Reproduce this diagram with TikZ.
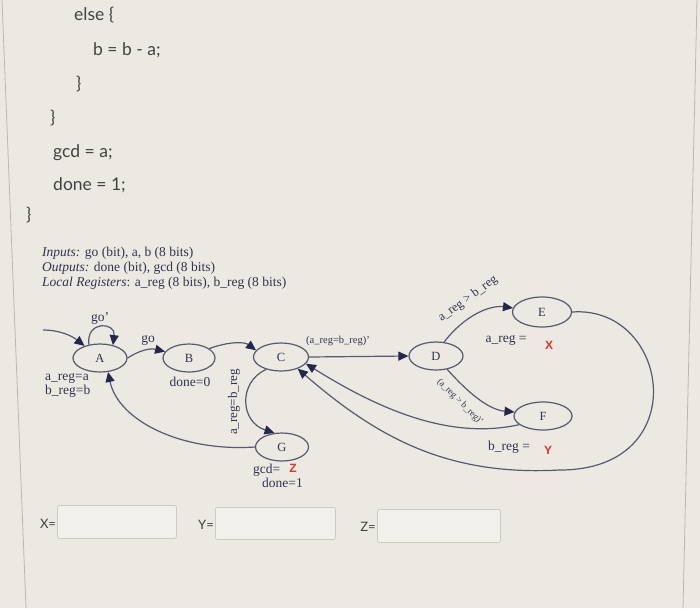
\documentclass[tikz,border=0pt]{standalone}
\usepackage{fontspec}
\setmainfont{Liberation Serif}
\newfontfamily\uifont{Lato}
\newfontfamily\marksans{Liberation Sans}
\usetikzlibrary{shapes.geometric,arrows.meta}

\definecolor{paper}{RGB}{236,233,226}
\definecolor{pageedge}{RGB}{186,184,178}
\definecolor{ink}{RGB}{50,50,78}
\definecolor{edgegray}{RGB}{88,88,112}
\definecolor{tipblue}{RGB}{36,38,78}
\definecolor{codegray}{RGB}{66,66,66}
\definecolor{answerred}{RGB}{226,52,44}
\definecolor{boxline}{RGB}{204,202,196}

\tikzset{
  state/.style={ellipse, draw=edgegray, line width=1.2pt, minimum width=55pt,
    minimum height=28pt, inner sep=0pt, text=ink, font=\fontsize{12.5}{12.5}\selectfont},
  trans/.style={draw=edgegray, line width=1.2pt, -{Triangle[length=10pt,width=9pt,color=tipblue]}},
  lbl/.style={text=ink, inner sep=0pt, font=\fontsize{13.5}{14}\selectfont},
  codeline/.style={anchor=base west, inner sep=0pt, text=codegray, font=\uifont\fontsize{17.5}{18}\selectfont},
  answer/.style={anchor=north west, draw=boxline, line width=0.8pt, rounded corners=2pt, fill=paper!70!white},
  answerlbl/.style={inner sep=0pt, text=codegray, font=\uifont\fontsize{13}{13}\selectfont},
  val/.style={inner sep=0pt, text=answerred, font=\marksans\bfseries\fontsize{12}{12}\selectfont}
}

\begin{document}
\begin{tikzpicture}[x=1pt, y=-1pt]
  % page and screen edges
  \fill[paper] (0,0) rectangle (700,608);
  \useasboundingbox (0,0) rectangle (700,608);
  \draw[pageedge, line width=0.8pt] (2,0) -- (26,608);
  \draw[pageedge, line width=0.8pt] (697,0) -- (683,608);

  % end of the code
  \node[codeline] (elseline) at (74,20) {else \{};
  \node[codeline] (subline) at (93,55) {b = b - a;};
  \node[codeline] (closeelse) at (76,89) {\}};
  \node[codeline] (closeloop) at (50,123) {\}};
  \node[codeline] (gcdline) at (53,157) {gcd = a;};
  \node[codeline] (doneline) at (53,190) {done = 1;};
  \node[codeline] (closeall) at (26,220) {\}};

  % ports and registers
  \node[lbl, anchor=base west] (inputs) at (42,256) {\textit{Inputs:} go (bit), a, b (8 bits)};
  \node[lbl, anchor=base west] (outputs) at (42,271) {\textit{Outputs:} done (bit), gcd (8 bits)};
  \node[lbl, anchor=base west] (locals) at (42,286) {\textit{Local Registers}: a\_reg (8 bits), b\_reg (8 bits)};

  % states
  \node[state, minimum width=54pt] (A) at (100,358) {A};
  \node[state, minimum width=52pt] (B) at (189,358) {B};
  \node[state] (C) at (281,357) {C};
  \node[state, minimum width=53pt] (G) at (282,447) {G};
  \node[state, minimum width=54pt] (D) at (436,356) {D};
  \node[state, minimum width=59pt, minimum height=30pt] (E) at (542,312) {E};
  \node[state, minimum width=58pt] (F) at (543,416) {F};

  % transitions
  \coordinate (start) at (43,330);
  \draw[trans] (start) .. controls (60,330) and (72,336) .. (A.142);
  \draw[trans] (A.130) .. controls (86,320) and (116,322) .. (A.45);
  \draw[trans] (A.east) .. controls (140,350) and (150,348) .. (B.165);
  \draw[trans] (B.25) .. controls (230,341) and (245,342) .. (C.165);
  \draw[trans] (C.east) -- (D.west);
  \draw[trans] (C.220) .. controls (238,382) and (240,422) .. (G.118);
  \draw[trans] (G.west) .. controls (180,452) and (118,420) .. (A.300);
  \draw[trans] (D.60) .. controls (465,315) and (490,305) .. (E.172);
  \draw[trans] (D.-50) .. controls (470,395) and (490,410) .. (F.172);
  \draw[trans] (F.200) .. controls (450,440) and (380,410) .. (C.-15);
  \draw[trans] (E.east) .. controls (670,305) and (695,470) .. (560,470)
    .. controls (450,476) and (380,440) .. (C.-35);

  % transition labels
  \node[lbl] (golbl) at (100,318) {go'};
  \node[lbl] (gotolbl) at (148,340) {go};
  \node[lbl, font=\fontsize{10.5}{11}\selectfont] (nelbl) at (338,341) {(a\_reg=b\_reg)'};
  \node[lbl, rotate=90, font=\fontsize{13}{13}\selectfont] (eqlbl) at (234,402) {a\_reg=b\_reg};
  \node[lbl, rotate=36, font=\fontsize{12.5}{13}\selectfont] (gtlbl) at (468,299) {a\_reg > b\_reg};
  \node[lbl, rotate=-45, font=\fontsize{9.3}{9.5}\selectfont] (lelbl) at (460,402) {(a\_reg > b\_reg)'};

  % state outputs
  \node[lbl, align=left, anchor=north west, font=\fontsize{13.5}{14.5}\selectfont] (initlbl) at (45,373) {a\_reg=a\\b\_reg=b};
  \node[lbl] (bout) at (190,382) {done=0};
  \node[lbl, anchor=base west] (gout) at (253,473) {gcd=};
  \node[val] (zval) at (293,468) {Z};
  \node[lbl, anchor=base west] (gdone) at (262,487) {done=1};
  \node[lbl] (eout) at (506,340) {a\_reg =};
  \node[val] (xval) at (549,345) {X};
  \node[lbl] (fout) at (509,447) {b\_reg =};
  \node[val] (yval) at (548,450) {Y};

  % answer fields
  \node[answerlbl] (xlbl) at (48,524) {X=};
  \node[answer, minimum width=119pt, minimum height=33pt] (xbox) at (57,505) {};
  \node[answerlbl] (ylbl) at (206,525) {Y=};
  \node[answer, minimum width=120pt, minimum height=32pt] (ybox) at (215,507) {};
  \node[answerlbl] (zlbl) at (368,527) {Z=};
  \node[answer, minimum width=123pt, minimum height=33pt] (zbox) at (377,509) {};
\end{tikzpicture}
\end{document}
